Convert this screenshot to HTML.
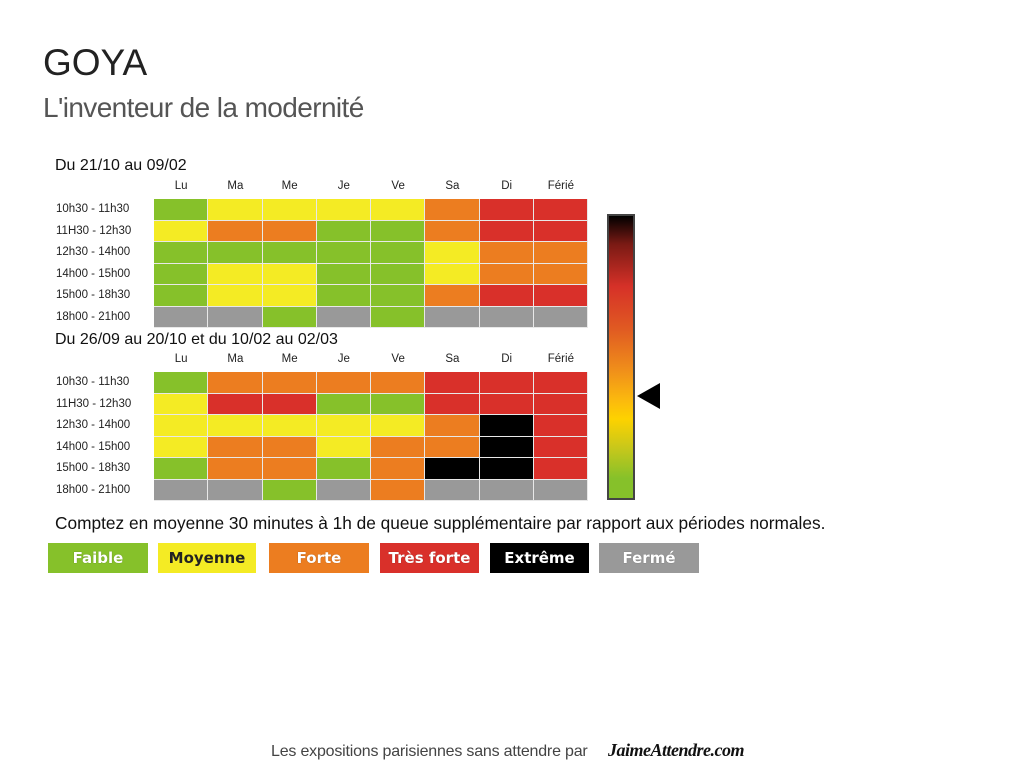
<!DOCTYPE html>
<html><head><meta charset="utf-8">
<style>
body{margin:0;width:1024px;height:768px;background:#fff;position:relative;overflow:hidden;font-family:"Liberation Sans",sans-serif;}
.abs{position:absolute;white-space:nowrap;}
.cell{position:absolute;box-sizing:border-box;border-right:1px solid #e8e8e8;border-bottom:1px solid #e8e8e8;}
.lbl{position:absolute;font-size:11.5px;color:#222;}
.leg{position:absolute;top:543px;height:30px;font-size:15px;font-weight:bold;font-family:"DejaVu Sans","Liberation Sans",sans-serif;display:flex;align-items:center;justify-content:center;color:#fff;text-shadow:0 0 1px rgba(0,0,0,.4);}
</style></head>
<body>
<div class="abs" style="left:43px;top:42px;font-size:37px;color:#222;">GOYA</div>
<div class="abs" style="left:43px;top:92px;font-size:28px;color:#555;font-weight:300;letter-spacing:-0.6px;">L'inventeur de la modernité</div>
<div class="abs" style="left:55px;top:157px;font-size:16px;color:#111;">Du 21/10 au 09/02</div>
<div class="abs" style="left:55px;top:331px;font-size:16px;color:#111;">Du 26/09 au 20/10 et du 10/02 au 02/03</div>
<div id="grids"></div>
<div class="abs" style="left:607px;top:214px;width:24px;height:282px;border:2px solid #444;background:linear-gradient(to bottom,#000 0%,#7a1a14 10%,#d63128 25%,#e05a22 40%,#f0901a 55%,#fbb80e 65%,#fdd200 72%,#c9c81a 82%,#86c12a 93%,#86c12a 100%);"></div>
<svg class="abs" style="left:636px;top:382px;" width="26" height="28"><polygon points="1,14 24,1 24,27" fill="#000"/></svg>
<div class="abs" style="left:55px;top:513px;font-size:17.3px;color:#111;">Comptez en moyenne 30 minutes à 1h de queue supplémentaire par rapport aux périodes normales.</div>
<div class="leg" style="left:48px;width:100px;background:#86c12a;">Faible</div>
<div class="leg" style="left:158px;width:98px;background:#f4eb24;color:#222;text-shadow:none;">Moyenne</div>
<div class="leg" style="left:269px;width:100px;background:#ec7d20;">Forte</div>
<div class="leg" style="left:380px;width:99px;background:#d9302a;">Très forte</div>
<div class="leg" style="left:490px;width:99px;background:#000;">Extrême</div>
<div class="leg" style="left:599px;width:100px;background:#999;">Fermé</div>
<div class="abs" style="left:271px;top:743px;font-size:16px;color:#444;font-weight:300;letter-spacing:-0.2px;">Les expositions parisiennes sans attendre par</div>
<div class="abs" style="left:608px;top:740px;font-size:18px;color:#111;font-style:italic;font-weight:bold;font-family:'Liberation Serif',serif;letter-spacing:-0.5px;">JaimeAttendre.com</div>
<script>
const days=["Lu","Ma","Me","Je","Ve","Sa","Di","Férié"];
const slots=["10h30 - 11h30","11H30 - 12h30","12h30 - 14h00","14h00 - 15h00","15h00 - 18h30","18h00 - 21h00"];
const levelColors=["#86c12a","#f4eb24","#ec7d20","#d9302a","#000000","#999999"];
const grid1=[
[0,1,1,1,1,2,3,3],
[1,2,2,0,0,2,3,3],
[0,0,0,0,0,1,2,2],
[0,1,1,0,0,1,2,2],
[0,1,1,0,0,2,3,3],
[5,5,0,5,0,5,5,5]];
const grid2=[
[0,2,2,2,2,3,3,3],
[1,3,3,0,0,3,3,3],
[1,1,1,1,1,2,4,3],
[1,2,2,1,2,2,4,3],
[0,2,2,0,2,4,4,3],
[5,5,0,5,2,5,5,5]];
const root=document.getElementById('grids');
const X0=154,CW=54.25,RH=21.5;
function draw(data,top){
  days.forEach((d,i)=>{
    const e=document.createElement('div');
    e.className='lbl';
    
    
    e.style.left=(X0+i*CW)+'px';e.style.width=CW+'px';e.style.textAlign='center';e.style.top=(top-19)+'px';
    e.textContent=d;root.appendChild(e);
  });
  slots.forEach((s,r)=>{
    const e=document.createElement('div');
    e.className='lbl';
    
    
    e.style.left='56px';e.style.top=(top+r*RH+4)+'px';
    e.textContent=s;root.appendChild(e);
    data[r].forEach((v,c)=>{
      const k=document.createElement('div');
      k.className='cell';
      
      
      k.style.left=(X0+c*CW)+'px';k.style.top=(top+r*RH)+'px';
      k.style.width=CW+'px';k.style.height=RH+'px';
      k.style.background=levelColors[v];
      root.appendChild(k);
    });
  });
}
draw(grid1,199);
draw(grid2,372);
</script>
</body></html>
